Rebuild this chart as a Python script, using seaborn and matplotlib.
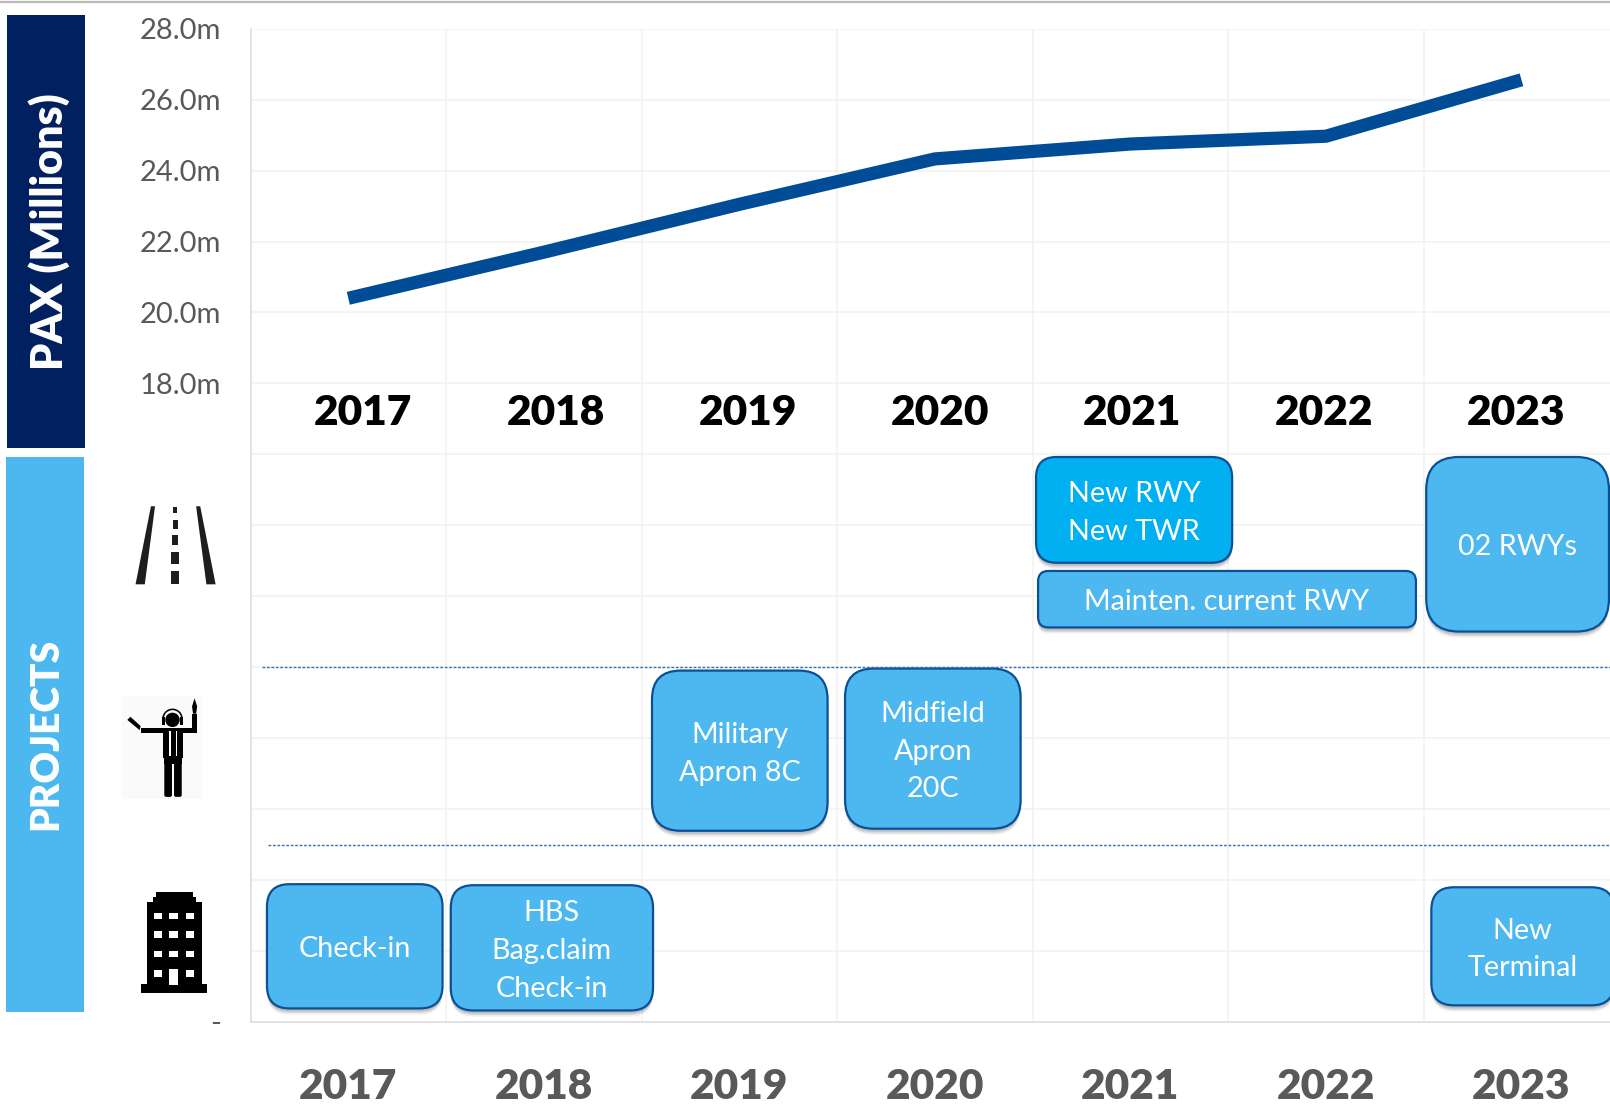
import matplotlib
matplotlib.use("Agg")
import matplotlib.pyplot as plt
from matplotlib.patches import FancyBboxPatch, Polygon, Rectangle, Circle, Wedge
from matplotlib.ticker import FixedLocator
import pandas as pd
import seaborn as sns

# Data
years = ['2017', '2018', '2019', '2020', '2021', '2022', '2023']
pax = [20.4, 21.7, 23.05, 24.33, 24.75, 24.97, 26.56]
y_ticks = list(range(0, 30, 2))
y_labels = ['-', '', '', '', '', '', '', '', '', '18.0m', '20.0m', '22.0m', '24.0m', '26.0m', '28.0m']
top_year_x = [353, 541, 728, 915, 1102, 1289, 1476]

# boxes in px of the reference (shrunk): label, x0, x1, y0, y1, corner radius, fill
LIGHT = '#4DB8EF'
projects = [
    ('Check-in', 260, 431, 861, 982, 22, LIGHT),
    ('HBS\nBag.claim\nCheck-in', 439, 636, 862, 984, 22, LIGHT),
    ('Military\nApron 8C', 635, 806, 653, 809, 28, LIGHT),
    ('Midfield\nApron\n20C', 823, 994, 651, 807, 28, LIGHT),
    ('New RWY\nNew TWR', 1009, 1200, 445, 548, 20, '#00B0F0'),
    ('Mainten. current RWY', 1011, 1379, 556, 611, 10, LIGHT),
    ('02 RWYs', 1389, 1567, 445, 615, 32, LIGHT),
    ('New\nTerminal', 1394, 1572, 864, 979, 22, LIGHT),
]

sns.set_theme(style='whitegrid')
plt.rcParams['font.family'] = ['Lato', 'DejaVu Sans']

W, H = 1568, 1077
fig = plt.figure(figsize=(16.1, 11.06), dpi=100, facecolor='white')
ax = fig.add_axes([244 / W, 1 - 995 / H, 1333 / W, 967 / H])

df = pd.DataFrame({'year': years, 'pax': pax})
sns.lineplot(data=df, x='year', y='pax', ax=ax, color='#004C97', linewidth=9.5, solid_capstyle='butt', zorder=3)

ax.set_xlim(-0.5, 6.5)
ax.set_ylim(0, 28)
ax.set_xlabel('')
ax.set_ylabel('')
ax.set_yticks(y_ticks)
ax.set_yticklabels(y_labels, fontsize=21, color='#595959')
ax.tick_params(axis='y', length=0, pad=21)
ax.tick_params(axis='x', which='both', length=0, pad=33)
ax.set_xticks(range(7))
ax.set_xticklabels(years, fontsize=30.5, fontweight='heavy', color='#595959')
ax.xaxis.set_minor_locator(FixedLocator([0.5, 1.5, 2.5, 3.5, 4.5, 5.5]))
ax.grid(False, axis='x', which='major')
ax.grid(True, axis='x', which='minor', color='#F2F2F2', linewidth=1.2)
ax.grid(True, axis='y', color='#F2F2F2', linewidth=1.2)
for side, spine in ax.spines.items():
    spine.set_visible(side in ('left', 'bottom'))
    spine.set_color('#DEDEDE')
    spine.set_linewidth(1.2)
ax.set_facecolor('white')

# overlay in reference px for the slide shapes
ov = fig.add_axes([0, 0, 1, 1], facecolor='none')
ov.set_xlim(0, W)
ov.set_ylim(H, 0)
ov.axis('off')

ov.plot([0, W], [1.5, 1.5], color='#BBBBBB', lw=1.6)
ov.add_patch(Rectangle((7, 15), 76, 421, color='#002060', lw=0))
ov.add_patch(Rectangle((6, 445), 76, 540, color=LIGHT, lw=0))
ov.text(48, 226, 'PAX (Millions)', rotation=90, color='white', fontsize=31, fontweight='heavy', ha='center', va='center')
ov.text(45, 715, 'PROJECTS', rotation=90, color='white', fontsize=28, fontweight='heavy', ha='center', va='center')

for x, lab in zip(top_year_x, years):
    ov.text(x, 402, lab, color='black', fontsize=30.5, fontweight='heavy', ha='center', va='center')

ov.plot([255, W], [649.5, 649.5], color='#2E75B6', lw=1, ls=(0, (2, 1.2)))
ov.plot([261, W], [823, 823], color='#2E75B6', lw=1, ls=(0, (2, 1.2)))


def box(label, x0, x1, y0, y1, r, fill):
    style = 'round,pad=0,rounding_size=%d' % r
    for off, a in [(6, 0.06), (4.5, 0.09), (3, 0.12)]:
        ov.add_patch(FancyBboxPatch((x0, y0 + off), x1 - x0, y1 - y0, boxstyle=style,
                                    fc='black', ec='none', alpha=a, clip_on=False))
    ov.add_patch(FancyBboxPatch((x0, y0), x1 - x0, y1 - y0, boxstyle=style,
                                fc=fill, ec='#0B4F96', lw=1.6))
    ov.text((x0 + x1) / 2, (y0 + y1) / 2 + 3, label, color='white', fontsize=20.7, ha='center',
            va='center', linespacing=1.56)


for p in projects:
    box(*p)

# road icon
ink = '#1E1E1E'
ov.add_patch(Polygon([(147, 493), (151, 493), (141, 569), (132, 569)], color=ink, lw=0))
ov.add_patch(Polygon([(191, 493), (195, 493), (210, 569), (201, 569)], color=ink, lw=0))
for y0, y1, w in [(494, 500, 4), (506, 515, 5), (521, 531, 6), (538, 549, 7), (556, 569, 8)]:
    ov.add_patch(Rectangle((170.5 - w / 2, y0), w, y1 - y0, color=ink, lw=0))

# marshaller icon
ov.add_patch(Rectangle((119, 678), 78, 100, color='#FAFAFA', lw=0))
ov.add_patch(Circle((168, 701), 7, color='black', lw=0))
ov.add_patch(Wedge((168, 700), 10, 180, 360, width=1.5, color='black', lw=0))
ov.add_patch(Rectangle((157.5, 698), 3, 8, color='black', lw=0))
ov.add_patch(Rectangle((175.5, 698), 3, 8, color='black', lw=0))
ov.add_patch(Rectangle((137, 709), 55, 5, color='black', lw=0))
ov.add_patch(Rectangle((187, 695), 5, 18, color='black', lw=0))
ov.add_patch(Polygon([(189.5, 680), (192, 688), (191, 695), (188, 695), (187, 688)], color='black', lw=0))
ov.add_patch(Polygon([(124, 701), (127, 698), (137, 707), (136, 711)], color='black', lw=0))
ov.add_patch(Rectangle((159, 709), 19, 29, color='black', lw=0))
ov.add_patch(Rectangle((165, 712), 1.6, 24, color='white', lw=0))
ov.add_patch(Rectangle((171, 712), 1.6, 24, color='white', lw=0))
ov.add_patch(FancyBboxPatch((160, 738), 7.5, 38, boxstyle='round,pad=0,rounding_size=2', fc='black', ec='none'))
ov.add_patch(FancyBboxPatch((169.5, 738), 7.5, 38, boxstyle='round,pad=0,rounding_size=2', fc='black', ec='none'))
ov.add_patch(Rectangle((160, 738), 17, 6, color='black', lw=0))

# building icon
ov.add_patch(Rectangle((137, 958), 65, 9, color='black', lw=0))
ov.add_patch(Rectangle((143, 878), 54, 82, color='black', lw=0))
ov.add_patch(Rectangle((149, 873), 42, 8, color='black', lw=0))
ov.add_patch(Rectangle((152, 869), 36, 6, color='black', lw=0))
for wy in [889, 907, 926, 945]:
    for wx in [150, 165, 181]:
        if wy == 945 and wx == 165:
            continue
        ov.add_patch(Rectangle((wx, wy), 8, 6, color='white', lw=0))
ov.add_patch(Rectangle((165, 944), 8, 15, color='white', lw=0))

fig.savefig('out.png', dpi=100)
